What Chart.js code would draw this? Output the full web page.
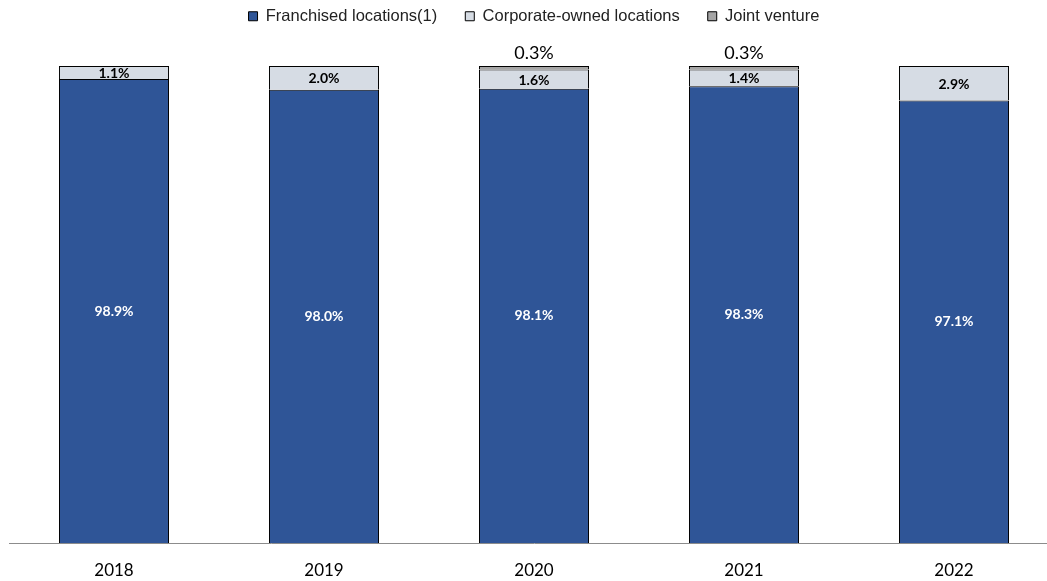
<!DOCTYPE html>
<html>
<head>
<meta charset="utf-8">
<script src="https://cdn.jsdelivr.net/npm/chart.js@4/dist/chart.umd.min.js"></script>
<style>
  html, body { margin: 0; padding: 0; background: #fff; overflow: hidden; }
  #wrap { width: 1060px; height: 581px; position: relative; }
</style>
</head>
<body>
<div id="wrap"><canvas id="shareChart" width="1060" height="581"></canvas></div>
<script>
// chart data
const years = ['2018', '2019', '2020', '2021', '2022'];
const franchised = [98.9, 98.0, 98.1, 98.3, 97.1];
const corporate = [1.1, 2.0, 1.6, 1.4, 2.9];
const jointVenture = [0, 0, 0.3, 0.3, 0];

// draws the percentage labels on top of the bars
const valueLabels = {
    id: 'valueLabels',
    afterDatasetsDraw(chart) {
        const ctx = chart.ctx;
        const bottom = chart.chartArea.bottom;
        ctx.save();
        ctx.textAlign = 'center';
        ctx.textBaseline = 'middle';
        chart.data.datasets.forEach((ds, i) => {
            const meta = chart.getDatasetMeta(i);
            meta.data.forEach((bar, j) => {
                const v = ds.data[j];
                if (!v) return;
                const txt = v.toFixed(1) + '%';
                const base = Math.min(bar.base, bottom); // axis doesn't start at 0
                if (i === 0) {
                    ctx.font = 'bold 14px Lato, "Open Sans", sans-serif';
                    ctx.fillStyle = '#ffffff';
                    ctx.fillText(txt, bar.x, (bar.y + base) / 2);
                } else if (i === 1) {
                    ctx.font = 'bold 14px Lato, "Open Sans", sans-serif';
                    ctx.fillStyle = '#000000';
                    ctx.fillText(txt, bar.x, (bar.y + base) / 2 + 1);
                } else {
                    ctx.font = '18px Lato, "Open Sans", sans-serif';
                    ctx.fillStyle = '#000000';
                    ctx.fillText(txt, bar.x, bar.y - 13);
                }
            });
        });
        ctx.restore();
    }
};

// the legend's padding also spaces the items, so fix its height by hand
const legendHeight = {
    id: 'legendHeight',
    afterInit(chart) {
        const legend = chart.legend;
        const fit = legend.fit.bind(legend);
        legend.fit = function () {
            fit();
            this.height = 66 + 20;
        };
    }
};

const ctx = document.getElementById('shareChart').getContext('2d');
const shareChart = new Chart(ctx, {
    type: 'bar',
    data: {
        labels: years,
        datasets: [
            {
                label: 'Franchised locations(1)',
                data: franchised,
                backgroundColor: '#2F5597',
                borderColor: '#000000',
                borderWidth: 1
            },
            {
                label: 'Corporate-owned locations',
                data: corporate,
                backgroundColor: '#D6DCE4',
                borderColor: '#000000',
                borderWidth: 1
            },
            {
                label: 'Joint venture',
                data: jointVenture,
                backgroundColor: '#A5A5A5',
                borderColor: '#000000',
                borderWidth: 1
            }
        ]
    },
    options: {
        responsive: false,
        animation: false,
        devicePixelRatio: 1,
        layout: { padding: { left: 9, right: 1, top: -20, bottom: 0 } },
        datasets: {
            bar: { categoryPercentage: 1, barPercentage: 0.524 }
        },
        plugins: {
            legend: {
                position: 'top',
                labels: {
                    boxWidth: 9,
                    boxHeight: 9,
                    padding: 28,
                    color: '#222',
                    font: { family: '"Liberation Sans", Arial, sans-serif', size: 16.5 }
                }
            },
            tooltip: { enabled: false }
        },
        scales: {
            x: {
                stacked: true,
                grid: { display: false, drawTicks: false },
                border: { color: '#8c8c8c', width: 1 },
                ticks: {
                    color: '#000',
                    padding: 17,
                    font: { family: 'Lato, "Open Sans", sans-serif', size: 17 }
                },
                afterFit(scale) { scale.height = 38; }
            },
            y: {
                stacked: true,
                display: false,
                min: 60,
                max: 100
            }
        }
    },
    plugins: [valueLabels, legendHeight]
});
</script>
</body>
</html>
